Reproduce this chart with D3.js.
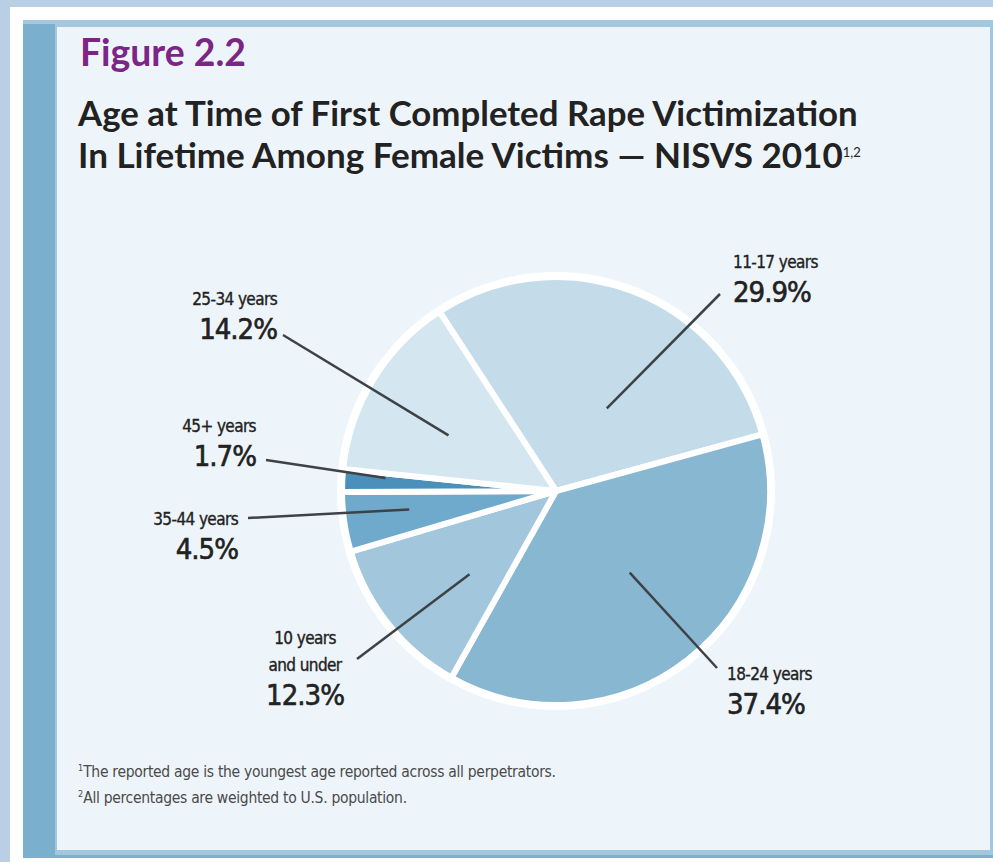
<!DOCTYPE html>
<html lang="en">
<head>
<meta charset="UTF-8">
<title>Figure 2.2</title>
<script src="https://cdnjs.cloudflare.com/ajax/libs/d3/7.8.5/d3.min.js"></script>
<style>
  * { margin: 0; padding: 0; }
  body { background: #b9cfe5; width: 993px; height: 862px; overflow: hidden; }
  svg { display: block; }
  .head { font-family: Lato, "Open Sans", sans-serif; font-weight: 700; }
  .lbl { font-family: "DejaVu Sans Condensed", "DejaVu Sans", sans-serif; font-stretch: condensed; fill: #222; stroke: #222; stroke-width: 0.35; }
  .note { font-family: "DejaVu Sans Condensed", "DejaVu Sans", sans-serif; font-stretch: condensed; fill: #4a4a4a; }
</style>
</head>
<body>
<div id="chart"></div>
<script>
// data
var categories = ['11-17 years', '18-24 years', '10 years and under', '35-44 years', '45+ years', '25-34 years'];
var percents = [29.9, 37.4, 12.3, 4.5, 1.7, 14.2];
var colors = ['#c4dce9', '#88b7d2', '#a2c6dc', '#6fa9cb', '#4b90bb', '#d4e6f0'];

// label layout: text lines, anchor point, alignment, leader start + where it lands in the slice
var labelLayout = [
  { lines: ['11-17 years'], x: 733, y: 268, anchor: 'start', lx: 720, ly: 294, t: 0.60, r: 97 },
  { lines: ['18-24 years'], x: 727, y: 680, anchor: 'start', lx: 717, ly: 668, t: 0.47, r: 110 },
  { lines: ['10 years', 'and under'], x: 305, y: 644, anchor: 'middle', lx: 357, ly: 659, t: 0.38, r: 120 },
  { lines: ['35-44 years'], x: 238, y: 525, anchor: 'end', lx: 248, ly: 518, t: 0.57, r: 148 },
  { lines: ['45+ years'], x: 256, y: 432, anchor: 'end', lx: 266, ly: 460, t: 0.75, r: 171 },
  { lines: ['25-34 years'], x: 277, y: 305, anchor: 'end', lx: 283, ly: 335, t: 0.42, r: 121 }
];

var W = 993, H = 862;
var svg = d3.select('#chart').append('svg').attr('width', W).attr('height', H);

// frame
svg.append('rect').attr('x', 10).attr('y', 7).attr('width', W - 10).attr('height', H - 7).attr('fill', '#ffffff');
svg.append('rect').attr('x', 23).attr('y', 20).attr('width', 970).attr('height', 838).attr('fill', '#a3c7dc');
svg.append('rect').attr('x', 57).attr('y', 27).attr('width', 933).attr('height', 823).attr('fill', '#eef5fa');
svg.append('rect').attr('x', 23).attr('y', 24).attr('width', 32).attr('height', 832).attr('fill', '#7ab0cd');
svg.append('rect').attr('x', 23).attr('y', 855).attr('width', 970).attr('height', 3).attr('fill', '#7ab0cd');

function fit(sel, width) {
  var len = sel.node().getComputedTextLength();
  var fs = parseFloat(sel.attr('font-size'));
  sel.attr('font-size', fs * width / len);
}

// headings
fit(svg.append('text').attr('class', 'head').attr('x', 80).attr('y', 66)
  .attr('font-size', 28).attr('fill', '#7b2686').text('Figure 2.2'), 166);
fit(svg.append('text').attr('class', 'head').attr('x', 78).attr('y', 126)
  .attr('font-size', 28).attr('fill', '#222').text('Age at Time of First Completed Rape Victimization'), 780);
var t2 = svg.append('text').attr('class', 'head').attr('x', 78).attr('y', 168)
  .attr('font-size', 28).attr('fill', '#222').text('In Lifetime Among Female Victims \u2014 NISVS 2010');
fit(t2, 765);
t2.append('tspan').attr('dy', -11).attr('font-size', 13).attr('font-weight', 400).text('1,2');

// pie
var cx = 556, cy = 491, R = 214;
var start = -33 * Math.PI / 180;
var pie = d3.pie().sort(null).value(function(d) { return d; })
  .startAngle(start).endAngle(start + 2 * Math.PI);
var arcs = pie(percents);
var arc = d3.arc().innerRadius(0).outerRadius(R);

var g = svg.append('g').attr('transform', 'translate(' + cx + ',' + cy + ')');
g.append('circle').attr('r', R + 5).attr('fill', '#ffffff');
g.selectAll('path.slice').data(arcs).enter().append('path')
  .attr('class', 'slice')
  .attr('d', arc)
  .attr('fill', function(d, i) { return colors[i]; })
  .attr('stroke', '#ffffff').attr('stroke-width', 6).attr('stroke-linejoin', 'round');

// leaders and labels
arcs.forEach(function(a, i) {
  var L = labelLayout[i];
  var ang = a.startAngle + L.t * (a.endAngle - a.startAngle);
  var px = cx + L.r * Math.sin(ang), py = cy - L.r * Math.cos(ang);
  svg.append('line').attr('x1', L.lx).attr('y1', L.ly).attr('x2', px).attr('y2', py)
    .attr('stroke', '#3d4246').attr('stroke-width', 2.5);
  var txt = svg.append('text').attr('class', 'lbl').attr('text-anchor', L.anchor);
  L.lines.forEach(function(s, k) {
    txt.append('tspan').attr('x', L.x).attr('y', L.y + k * 27).attr('font-size', 17).attr('letter-spacing', -0.6).text(s);
  });
  txt.append('tspan').attr('x', L.x).attr('y', L.y + (L.lines.length - 1) * 27 + 34)
    .attr('font-size', 29).attr('letter-spacing', -1).attr('stroke-width', 0.6).text(percents[i].toFixed(1) + '%');
});

// footnotes
var n1 = svg.append('text').attr('class', 'note').attr('x', 78).attr('y', 777).attr('font-size', 15.5);
n1.append('tspan').attr('font-size', 9).attr('dy', -6).text('1');
n1.append('tspan').attr('dy', 6).attr('letter-spacing', -0.3).text('The reported age is the youngest age reported across all perpetrators.');
var n2 = svg.append('text').attr('class', 'note').attr('x', 78).attr('y', 803).attr('font-size', 15.5);
n2.append('tspan').attr('font-size', 9).attr('dy', -6).text('2');
n2.append('tspan').attr('dy', 6).attr('letter-spacing', -0.3).text('All percentages are weighted to U.S. population.');
</script>
</body>
</html>
